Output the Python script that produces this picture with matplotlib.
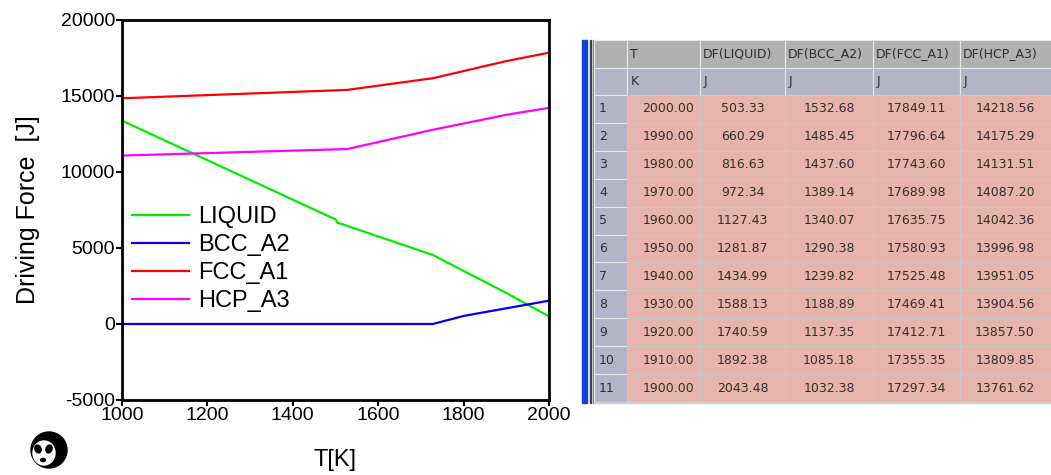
import matplotlib
matplotlib.use('Agg')
import matplotlib.pyplot as plt
from matplotlib.patches import Rectangle, Circle, Ellipse

plt.rcParams['font.family'] = ['Liberation Sans', 'DejaVu Sans']
plt.rcParams['axes.unicode_minus'] = False

# Curves (T in K, driving force in J)
liquid_T = [1000, 1500, 1505, 1510, 1728, 1900, 2000]
liquid_DF = [13380, 6880, 6650, 6620, 4540, 2043, 503]
bcc_T = [1000, 1728, 1800, 1900, 2000]
bcc_DF = [0, 0, 530, 1032, 1533]
fcc_T = [1000, 1527, 1728, 1900, 2000]
fcc_DF = [14850, 15400, 16170, 17297, 17849]
hcp_T = [1000, 1527, 1725, 1900, 2000]
hcp_DF = [11080, 11510, 12760, 13762, 14219]

phases = ['LIQUID', 'BCC_A2', 'FCC_A1', 'HCP_A3']
colors = ['#00ee00', '#0000ee', '#ff0000', '#ff00ff']

# Table to the right
col_heads = ['T', 'DF(LIQUID)', 'DF(BCC_A2)', 'DF(FCC_A1)', 'DF(HCP_A3)']
col_units = ['K', 'J', 'J', 'J', 'J']
tab_T = [2000.00, 1990.00, 1980.00, 1970.00, 1960.00, 1950.00,
         1940.00, 1930.00, 1920.00, 1910.00, 1900.00]
tab_liquid = [503.33, 660.29, 816.63, 972.34, 1127.43, 1281.87,
              1434.99, 1588.13, 1740.59, 1892.38, 2043.48]
tab_bcc = [1532.68, 1485.45, 1437.60, 1389.14, 1340.07, 1290.38,
           1239.82, 1188.89, 1137.35, 1085.18, 1032.38]
tab_fcc = [17849.11, 17796.64, 17743.60, 17689.98, 17635.75, 17580.93,
           17525.48, 17469.41, 17412.71, 17355.35, 17297.34]
tab_hcp = [14218.56, 14175.29, 14131.51, 14087.20, 14042.36, 13996.98,
           13951.05, 13904.56, 13857.50, 13809.85, 13761.62]

W, H = 1051, 475
fig = plt.figure(figsize=(W / 100, H / 100), dpi=100)

# ---- plot
ax = fig.add_axes([122 / W, 1 - 400 / H, 427 / W, 380 / H])
for T, DF, name, c in zip([liquid_T, bcc_T, fcc_T, hcp_T],
                          [liquid_DF, bcc_DF, fcc_DF, hcp_DF], phases, colors):
    ax.plot(T, DF, color=c, lw=1.6, label=name)
ax.set_xlim(1000, 2000)
ax.set_ylim(-5000, 20000)
ax.set_xticks(range(1000, 2001, 200))
ax.set_yticks(range(-5000, 20001, 5000))
ax.tick_params(direction='out', length=4, width=1.5, labelsize=14, pad=1)
ax.tick_params(top=False, right=False)
for s in ax.spines.values():
    s.set_linewidth(2)
ax.set_xlabel('T[K]', fontsize=17, labelpad=18)
ax.set_ylabel('Driving Force  [J]', fontsize=18, labelpad=15)
ax.legend(loc='upper left', bbox_to_anchor=(-0.01, 0.547), frameon=False,
          fontsize=17, handlelength=2.4, handletextpad=0.4,
          labelspacing=0.25, borderaxespad=0.2)

# ---- small panda logo
lg = fig.add_axes([22 / W, 1 - 475 / H, 50 / W, 50 / H])
lg.set_xlim(0, 50)
lg.set_ylim(0, 50)
lg.axis('off')
lg.add_patch(Circle((27, 25), 18, color='black'))
lg.add_patch(Ellipse((22, 22), 22, 24, color='white'))
lg.add_patch(Ellipse((16, 26), 6, 8, angle=20, color='black'))
lg.add_patch(Ellipse((27, 26), 6, 8, angle=-20, color='black'))
lg.add_patch(Ellipse((21, 15), 5, 3, color='black'))

# ---- table (pixel coordinates, y downward)
tx = fig.add_axes([0, 0, 1, 1])
tx.set_xlim(0, W)
tx.set_ylim(H, 0)
tx.axis('off')

tx.add_patch(Rectangle((582, 40), 4.5, 363, color='#1040e0'))
tx.add_patch(Rectangle((590, 40), 1.2, 363, color='#404040'))
tx.add_patch(Rectangle((592.5, 40), 1.0, 363, color='#808080'))

col_x = [594, 627, 700, 785, 873, 960, 1060]
top, h_head, h_unit = 40, 28, 27
row_h = (402 - 95) / len(tab_T)
head_c, unit_c, cell_c = '#b0b0b0', '#b4b4c8', '#e6b4aa'
txt_kw = dict(fontsize=9, color='#303030', family='DejaVu Sans', va='center')

# header rows
for i in range(len(col_x) - 1):
    x0, x1 = col_x[i], col_x[i + 1]
    tx.add_patch(Rectangle((x0, top), x1 - x0, h_head, fc=head_c,
                           ec='#e8e8e8', lw=0.8))
    tx.add_patch(Rectangle((x0, top + h_head), x1 - x0, h_unit,
                           fc=unit_c, ec='#e8e8e8', lw=0.8))
    if i > 0:
        tx.text(x0 + 3, top + h_head / 2, col_heads[i - 1], **txt_kw)
        tx.text(x0 + 4, top + h_head + h_unit / 2, col_units[i - 1], **txt_kw)

# data rows
rows = list(zip(tab_T, tab_liquid, tab_bcc, tab_fcc, tab_hcp))
y0 = top + h_head + h_unit
for r, vals in enumerate(rows):
    y = y0 + r * row_h
    tx.add_patch(Rectangle((col_x[0], y), col_x[1] - col_x[0], row_h,
                           fc=unit_c, ec='#e8e8e8', lw=0.8))
    tx.text(col_x[0] + 5, y + row_h / 2, str(r + 1), **txt_kw)
    for i, v in enumerate(vals):
        x0, x1 = col_x[i + 1], col_x[i + 2]
        tx.add_patch(Rectangle((x0, y), x1 - x0, row_h, fc=cell_c,
                               ec='#c8c8c8', lw=0.8))
        if i == 0:
            tx.text(x1 - 6, y + row_h / 2, f'{v:.2f}', ha='right', **txt_kw)
        else:
            tx.text((x0 + x1) / 2 if i < 4 else x0 + 45,
                    y + row_h / 2, f'{v:.2f}', ha='center', **txt_kw)
tx.add_patch(Rectangle((col_x[0], y0 + len(rows) * row_h), W - col_x[0], 1,
                       color='#d0d0d0'))

fig.savefig('out.png', dpi=100)
